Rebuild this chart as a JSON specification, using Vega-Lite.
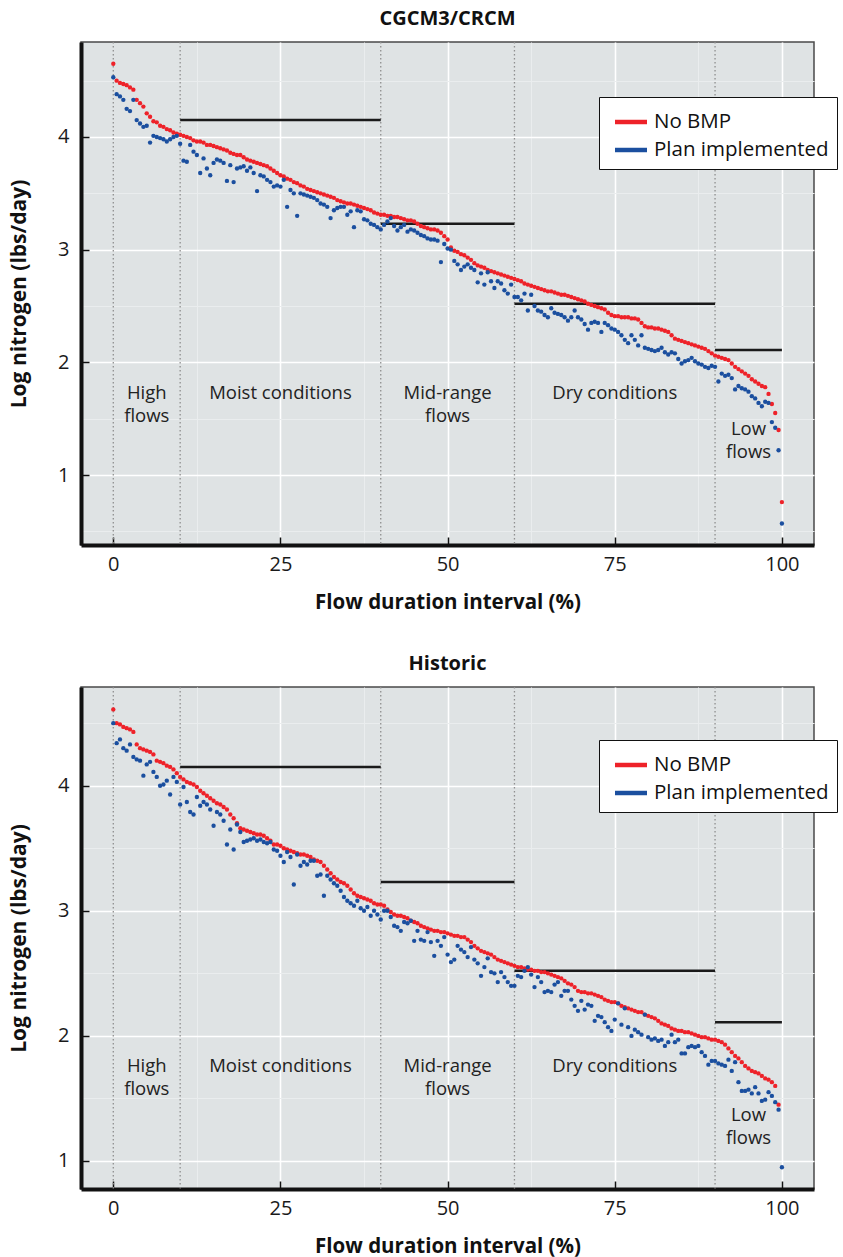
{
  "$schema": "https://vega.github.io/schema/vega-lite/v6.json",
  "padding": {"left": 7, "top": 8, "right": 0, "bottom": 0},
  "config": {
    "font": "Open Sans",
    "view": {"fill": "#dfe3e4", "stroke": "#4a4a4a", "strokeWidth": 1.5},
    "title": {"font": "Open Sans", "fontSize": 20, "fontWeight": "bold", "color": "#111111", "frame": "group", "anchor": "middle", "offset": 12},
    "axis": {"domainColor": "#111111", "domainWidth": 4, "tickColor": "#111111", "tickWidth": 1.5, "tickSize": -8, "labelFont": "Open Sans", "labelFontSize": 20, "labelColor": "#1a1a1a", "titleFont": "Open Sans", "titleFontSize": 20.5, "titleFontWeight": "bold", "titleColor": "#111111", "labelFlush": false, "labelOverlap": false, "grid": true},
    "axisX": {"labelPadding": 17, "titlePadding": 18},
    "axisY": {"labelPadding": 20, "titlePadding": 28, "titleFontSize": 21},
    "legend": {"labelFont": "Open Sans"}
  },
  "datasets": {
    "zones": [{"x": 0}, {"x": 10}, {"x": 40}, {"x": 60}, {"x": 90}],
    "targets": [{"x": 10, "x2": 40, "y": 4.15}, {"x": 40, "x2": 60, "y": 3.23}, {"x": 60, "x2": 90, "y": 2.52}, {"x": 90, "x2": 100, "y": 2.11}],
    "lab1": [{"x": 5, "y": 1.81, "t": "High\nflows"}, {"x": 25, "y": 1.81, "t": "Moist conditions"}, {"x": 50, "y": 1.81, "t": "Mid-range\nflows"}, {"x": 75, "y": 1.81, "t": "Dry conditions"}, {"x": 95, "y": 1.49, "t": "Low\nflows"}],
    "lab2": [{"x": 5, "y": 1.83, "t": "High\nflows"}, {"x": 25, "y": 1.83, "t": "Moist conditions"}, {"x": 50, "y": 1.83, "t": "Mid-range\nflows"}, {"x": 75, "y": 1.83, "t": "Dry conditions"}, {"x": 95, "y": 1.44, "t": "Low\nflows"}],
    "cg": [
      {"x":0,"n":4.65,"p":4.53},{"x":0.5,"n":4.50,"p":4.38},{"x":1,"n":4.48,"p":4.36},{"x":1.5,"n":4.47,"p":4.33},{"x":2,"n":4.46,"p":4.25},
      {"x":2.5,"n":4.44,"p":4.23},{"x":3,"n":4.42,"p":4.33},{"x":3.5,"n":4.33,"p":4.15},{"x":4,"n":4.30,"p":4.12},{"x":4.5,"n":4.27,"p":4.09},
      {"x":5,"n":4.21,"p":4.10},{"x":5.5,"n":4.18,"p":3.95},{"x":6,"n":4.14,"p":4.01},{"x":6.5,"n":4.13,"p":4.00},{"x":7,"n":4.10,"p":3.99},
      {"x":7.5,"n":4.09,"p":3.98},{"x":8,"n":4.07,"p":3.96},{"x":8.5,"n":4.06,"p":3.98},{"x":9,"n":4.04,"p":4.00},{"x":9.5,"n":4.03,"p":4.01},
      {"x":10,"n":4.02,"p":3.94},{"x":10.5,"n":4.01,"p":3.79},{"x":11,"n":4.00,"p":3.78},{"x":11.5,"n":3.99,"p":3.93},{"x":12,"n":3.97,"p":3.87},
      {"x":12.5,"n":3.96,"p":3.84},{"x":13,"n":3.96,"p":3.68},{"x":13.5,"n":3.95,"p":3.81},{"x":14,"n":3.93,"p":3.72},{"x":14.5,"n":3.93,"p":3.66},
      {"x":15,"n":3.92,"p":3.77},{"x":15.5,"n":3.91,"p":3.80},{"x":16,"n":3.90,"p":3.79},{"x":16.5,"n":3.89,"p":3.77},{"x":17,"n":3.88,"p":3.61},
      {"x":17.5,"n":3.86,"p":3.75},{"x":18,"n":3.85,"p":3.60},{"x":18.5,"n":3.84,"p":3.72},{"x":19,"n":3.84,"p":3.73},{"x":19.5,"n":3.82,"p":3.74},
      {"x":20,"n":3.80,"p":3.70},{"x":20.5,"n":3.79,"p":3.73},{"x":21,"n":3.78,"p":3.68},{"x":21.5,"n":3.77,"p":3.52},{"x":22,"n":3.76,"p":3.66},
      {"x":22.5,"n":3.75,"p":3.65},{"x":23,"n":3.74,"p":3.62},{"x":23.5,"n":3.72,"p":3.60},{"x":24,"n":3.70,"p":3.56},{"x":24.5,"n":3.68,"p":3.57},
      {"x":25,"n":3.66,"p":3.56},{"x":25.5,"n":3.65,"p":3.62},{"x":26,"n":3.63,"p":3.38},{"x":26.5,"n":3.62,"p":3.53},{"x":27,"n":3.60,"p":3.50},
      {"x":27.5,"n":3.59,"p":3.30},{"x":28,"n":3.57,"p":3.50},{"x":28.5,"n":3.56,"p":3.49},{"x":29,"n":3.54,"p":3.48},{"x":29.5,"n":3.53,"p":3.47},
      {"x":30,"n":3.52,"p":3.46},{"x":30.5,"n":3.51,"p":3.44},{"x":31,"n":3.50,"p":3.41},{"x":31.5,"n":3.49,"p":3.40},{"x":32,"n":3.48,"p":3.38},
      {"x":32.5,"n":3.47,"p":3.28},{"x":33,"n":3.46,"p":3.35},{"x":33.5,"n":3.44,"p":3.37},{"x":34,"n":3.43,"p":3.38},{"x":34.5,"n":3.42,"p":3.38},
      {"x":35,"n":3.41,"p":3.31},{"x":35.5,"n":3.41,"p":3.34},{"x":36,"n":3.40,"p":3.20},{"x":36.5,"n":3.39,"p":3.35},{"x":37,"n":3.38,"p":3.34},
      {"x":37.5,"n":3.37,"p":3.27},{"x":38,"n":3.36,"p":3.26},{"x":38.5,"n":3.35,"p":3.23},{"x":39,"n":3.33,"p":3.22},{"x":39.5,"n":3.32,"p":3.20},
      {"x":40,"n":3.31,"p":3.18},{"x":40.5,"n":3.31,"p":3.22},{"x":41,"n":3.30,"p":3.25},{"x":41.5,"n":3.30,"p":3.28},{"x":42,"n":3.29,"p":3.21},
      {"x":42.5,"n":3.29,"p":3.17},{"x":43,"n":3.28,"p":3.20},{"x":43.5,"n":3.27,"p":3.22},{"x":44,"n":3.26,"p":3.16},{"x":44.5,"n":3.26,"p":3.18},
      {"x":45,"n":3.25,"p":3.17},{"x":45.5,"n":3.23,"p":3.15},{"x":46,"n":3.21,"p":3.13},{"x":46.5,"n":3.20,"p":3.12},{"x":47,"n":3.19,"p":3.10},
      {"x":47.5,"n":3.18,"p":3.09},{"x":48,"n":3.18,"p":3.09},{"x":48.5,"n":3.17,"p":3.08},{"x":49,"n":3.15,"p":2.89},{"x":49.5,"n":3.12,"p":3.05},
      {"x":50,"n":3.09,"p":3.01},{"x":50.5,"n":3.02,"p":3.00},{"x":51,"n":2.99,"p":2.90},{"x":51.5,"n":2.98,"p":2.87},{"x":52,"n":2.96,"p":2.82},
      {"x":52.5,"n":2.95,"p":2.85},{"x":53,"n":2.93,"p":2.87},{"x":53.5,"n":2.91,"p":2.84},{"x":54,"n":2.88,"p":2.82},{"x":54.5,"n":2.86,"p":2.71},
      {"x":55,"n":2.85,"p":2.79},{"x":55.5,"n":2.84,"p":2.69},{"x":56,"n":2.82,"p":2.80},{"x":56.5,"n":2.81,"p":2.72},{"x":57,"n":2.80,"p":2.66},
      {"x":57.5,"n":2.79,"p":2.72},{"x":58,"n":2.78,"p":2.70},{"x":58.5,"n":2.77,"p":2.64},{"x":59,"n":2.76,"p":2.61},{"x":59.5,"n":2.75,"p":2.69},
      {"x":60,"n":2.74,"p":2.58},{"x":60.5,"n":2.73,"p":2.58},{"x":61,"n":2.72,"p":2.55},{"x":61.5,"n":2.70,"p":2.61},{"x":62,"n":2.69,"p":2.46},
      {"x":62.5,"n":2.68,"p":2.60},{"x":63,"n":2.67,"p":2.50},{"x":63.5,"n":2.66,"p":2.46},{"x":64,"n":2.65,"p":2.45},{"x":64.5,"n":2.64,"p":2.42},
      {"x":65,"n":2.63,"p":2.40},{"x":65.5,"n":2.63,"p":2.48},{"x":66,"n":2.62,"p":2.44},{"x":66.5,"n":2.61,"p":2.43},{"x":67,"n":2.60,"p":2.42},
      {"x":67.5,"n":2.60,"p":2.40},{"x":68,"n":2.59,"p":2.37},{"x":68.5,"n":2.58,"p":2.40},{"x":69,"n":2.57,"p":2.46},{"x":69.5,"n":2.56,"p":2.40},
      {"x":70,"n":2.55,"p":2.38},{"x":70.5,"n":2.54,"p":2.34},{"x":71,"n":2.52,"p":2.29},{"x":71.5,"n":2.51,"p":2.35},{"x":72,"n":2.50,"p":2.36},
      {"x":72.5,"n":2.49,"p":2.35},{"x":73,"n":2.48,"p":2.27},{"x":73.5,"n":2.47,"p":2.35},{"x":74,"n":2.44,"p":2.33},{"x":74.5,"n":2.42,"p":2.30},
      {"x":75,"n":2.41,"p":2.29},{"x":75.5,"n":2.41,"p":2.27},{"x":76,"n":2.40,"p":2.24},{"x":76.5,"n":2.40,"p":2.20},{"x":77,"n":2.40,"p":2.17},
      {"x":77.5,"n":2.39,"p":2.24},{"x":78,"n":2.39,"p":2.20},{"x":78.5,"n":2.38,"p":2.15},{"x":79,"n":2.35,"p":2.24},{"x":79.5,"n":2.32,"p":2.13},
      {"x":80,"n":2.31,"p":2.12},{"x":80.5,"n":2.31,"p":2.11},{"x":81,"n":2.30,"p":2.10},{"x":81.5,"n":2.30,"p":2.11},{"x":82,"n":2.29,"p":2.13},
      {"x":82.5,"n":2.28,"p":2.09},{"x":83,"n":2.27,"p":2.07},{"x":83.5,"n":2.24,"p":2.09},{"x":84,"n":2.21,"p":2.08},{"x":84.5,"n":2.20,"p":2.03},
      {"x":85,"n":2.19,"p":1.99},{"x":85.5,"n":2.18,"p":2.01},{"x":86,"n":2.17,"p":2.02},{"x":86.5,"n":2.16,"p":2.04},{"x":87,"n":2.15,"p":2.01},
      {"x":87.5,"n":2.14,"p":1.99},{"x":88,"n":2.13,"p":1.98},{"x":88.5,"n":2.12,"p":1.96},{"x":89,"n":2.10,"p":1.95},{"x":89.5,"n":2.08,"p":1.97},
      {"x":90,"n":2.06,"p":1.96},{"x":90.5,"n":2.05,"p":1.83},{"x":91,"n":2.04,"p":1.90},{"x":91.5,"n":2.03,"p":1.88},{"x":92,"n":2.02,"p":1.89},
      {"x":92.5,"n":1.99,"p":1.86},{"x":93,"n":1.96,"p":1.76},{"x":93.5,"n":1.94,"p":1.79},{"x":94,"n":1.92,"p":1.77},{"x":94.5,"n":1.90,"p":1.76},
      {"x":95,"n":1.88,"p":1.74},{"x":95.5,"n":1.85,"p":1.70},{"x":96,"n":1.83,"p":1.68},{"x":96.5,"n":1.81,"p":1.64},{"x":97,"n":1.79,"p":1.61},
      {"x":97.5,"n":1.78,"p":1.65},{"x":98,"n":1.72,"p":1.64},{"x":98.5,"n":1.63,"p":1.47},{"x":99,"n":1.55,"p":1.42},{"x":99.5,"n":1.40,"p":1.22},
      {"x":100,"n":0.76,"p":0.57}
    ],
    "hi": [
      {"x":0,"n":4.61,"p":4.50},{"x":0.5,"n":4.50,"p":4.34},{"x":1,"n":4.49,"p":4.37},{"x":1.5,"n":4.47,"p":4.30},{"x":2,"n":4.46,"p":4.28},
      {"x":2.5,"n":4.45,"p":4.33},{"x":3,"n":4.43,"p":4.23},{"x":3.5,"n":4.33,"p":4.21},{"x":4,"n":4.30,"p":4.20},{"x":4.5,"n":4.29,"p":4.08},
      {"x":5,"n":4.28,"p":4.17},{"x":5.5,"n":4.27,"p":4.19},{"x":6,"n":4.25,"p":4.11},{"x":6.5,"n":4.20,"p":4.07},{"x":7,"n":4.19,"p":4.00},
      {"x":7.5,"n":4.18,"p":4.01},{"x":8,"n":4.16,"p":4.04},{"x":8.5,"n":4.15,"p":3.93},{"x":9,"n":4.13,"p":4.07},{"x":9.5,"n":4.10,"p":4.03},
      {"x":10,"n":4.07,"p":3.85},{"x":10.5,"n":4.05,"p":3.99},{"x":11,"n":4.03,"p":3.87},{"x":11.5,"n":4.02,"p":3.79},{"x":12,"n":4.01,"p":3.77},
      {"x":12.5,"n":3.99,"p":3.91},{"x":13,"n":3.96,"p":3.84},{"x":13.5,"n":3.94,"p":3.87},{"x":14,"n":3.92,"p":3.85},{"x":14.5,"n":3.90,"p":3.81},
      {"x":15,"n":3.88,"p":3.68},{"x":15.5,"n":3.86,"p":3.79},{"x":16,"n":3.85,"p":3.77},{"x":16.5,"n":3.83,"p":3.72},{"x":17,"n":3.81,"p":3.53},
      {"x":17.5,"n":3.77,"p":3.65},{"x":18,"n":3.74,"p":3.49},{"x":18.5,"n":3.70,"p":3.69},{"x":19,"n":3.66,"p":3.63},{"x":19.5,"n":3.65,"p":3.55},
      {"x":20,"n":3.64,"p":3.56},{"x":20.5,"n":3.63,"p":3.57},{"x":21,"n":3.62,"p":3.58},{"x":21.5,"n":3.61,"p":3.56},{"x":22,"n":3.61,"p":3.57},
      {"x":22.5,"n":3.60,"p":3.55},{"x":23,"n":3.58,"p":3.54},{"x":23.5,"n":3.56,"p":3.55},{"x":24,"n":3.53,"p":3.49},{"x":24.5,"n":3.53,"p":3.48},
      {"x":25,"n":3.52,"p":3.44},{"x":25.5,"n":3.50,"p":3.39},{"x":26,"n":3.49,"p":3.47},{"x":26.5,"n":3.48,"p":3.43},{"x":27,"n":3.47,"p":3.21},
      {"x":27.5,"n":3.46,"p":3.45},{"x":28,"n":3.45,"p":3.36},{"x":28.5,"n":3.45,"p":3.39},{"x":29,"n":3.44,"p":3.37},{"x":29.5,"n":3.43,"p":3.40},
      {"x":30,"n":3.41,"p":3.40},{"x":30.5,"n":3.40,"p":3.28},{"x":31,"n":3.39,"p":3.29},{"x":31.5,"n":3.36,"p":3.12},{"x":32,"n":3.33,"p":3.28},
      {"x":32.5,"n":3.30,"p":3.25},{"x":33,"n":3.27,"p":3.22},{"x":33.5,"n":3.25,"p":3.20},{"x":34,"n":3.23,"p":3.16},{"x":34.5,"n":3.22,"p":3.11},
      {"x":35,"n":3.20,"p":3.08},{"x":35.5,"n":3.17,"p":3.06},{"x":36,"n":3.14,"p":3.04},{"x":36.5,"n":3.12,"p":3.08},{"x":37,"n":3.11,"p":3.02},
      {"x":37.5,"n":3.10,"p":3.00},{"x":38,"n":3.09,"p":3.03},{"x":38.5,"n":3.08,"p":2.96},{"x":39,"n":3.06,"p":3.00},{"x":39.5,"n":3.05,"p":2.97},
      {"x":40,"n":3.05,"p":2.93},{"x":40.5,"n":3.04,"p":3.00},{"x":41,"n":3.01,"p":3.00},{"x":41.5,"n":2.99,"p":2.95},{"x":42,"n":2.97,"p":2.88},
      {"x":42.5,"n":2.96,"p":2.87},{"x":43,"n":2.96,"p":2.84},{"x":43.5,"n":2.95,"p":2.91},{"x":44,"n":2.94,"p":2.90},{"x":44.5,"n":2.92,"p":2.92},
      {"x":45,"n":2.91,"p":2.76},{"x":45.5,"n":2.90,"p":2.84},{"x":46,"n":2.88,"p":2.77},{"x":46.5,"n":2.87,"p":2.76},{"x":47,"n":2.86,"p":2.83},
      {"x":47.5,"n":2.85,"p":2.75},{"x":48,"n":2.84,"p":2.64},{"x":48.5,"n":2.84,"p":2.76},{"x":49,"n":2.83,"p":2.72},{"x":49.5,"n":2.83,"p":2.79},
      {"x":50,"n":2.82,"p":2.65},{"x":50.5,"n":2.81,"p":2.59},{"x":51,"n":2.80,"p":2.61},{"x":51.5,"n":2.80,"p":2.72},{"x":52,"n":2.79,"p":2.69},
      {"x":52.5,"n":2.79,"p":2.67},{"x":53,"n":2.77,"p":2.63},{"x":53.5,"n":2.75,"p":2.71},{"x":54,"n":2.72,"p":2.61},{"x":54.5,"n":2.70,"p":2.58},
      {"x":55,"n":2.68,"p":2.48},{"x":55.5,"n":2.67,"p":2.55},{"x":56,"n":2.66,"p":2.62},{"x":56.5,"n":2.65,"p":2.51},{"x":57,"n":2.63,"p":2.50},
      {"x":57.5,"n":2.61,"p":2.43},{"x":58,"n":2.60,"p":2.51},{"x":58.5,"n":2.59,"p":2.47},{"x":59,"n":2.58,"p":2.43},{"x":59.5,"n":2.57,"p":2.40},
      {"x":60,"n":2.56,"p":2.40},{"x":60.5,"n":2.55,"p":2.48},{"x":61,"n":2.55,"p":2.47},{"x":61.5,"n":2.54,"p":2.52},{"x":62,"n":2.53,"p":2.55},
      {"x":62.5,"n":2.53,"p":2.49},{"x":63,"n":2.52,"p":2.39},{"x":63.5,"n":2.52,"p":2.47},{"x":64,"n":2.51,"p":2.43},{"x":64.5,"n":2.51,"p":2.35},
      {"x":65,"n":2.50,"p":2.36},{"x":65.5,"n":2.49,"p":2.35},{"x":66,"n":2.48,"p":2.41},{"x":66.5,"n":2.47,"p":2.43},{"x":67,"n":2.46,"p":2.32},
      {"x":67.5,"n":2.44,"p":2.36},{"x":68,"n":2.42,"p":2.36},{"x":68.5,"n":2.41,"p":2.29},{"x":69,"n":2.39,"p":2.24},{"x":69.5,"n":2.36,"p":2.20},
      {"x":70,"n":2.35,"p":2.28},{"x":70.5,"n":2.35,"p":2.21},{"x":71,"n":2.34,"p":2.25},{"x":71.5,"n":2.34,"p":2.24},{"x":72,"n":2.33,"p":2.12},
      {"x":72.5,"n":2.32,"p":2.16},{"x":73,"n":2.31,"p":2.15},{"x":73.5,"n":2.29,"p":2.11},{"x":74,"n":2.28,"p":2.07},{"x":74.5,"n":2.27,"p":2.04},
      {"x":75,"n":2.27,"p":2.13},{"x":75.5,"n":2.26,"p":2.26},{"x":76,"n":2.24,"p":2.09},{"x":76.5,"n":2.23,"p":2.22},{"x":77,"n":2.22,"p":2.07},
      {"x":77.5,"n":2.21,"p":2.00},{"x":78,"n":2.20,"p":2.05},{"x":78.5,"n":2.19,"p":2.03},{"x":79,"n":2.19,"p":2.01},{"x":79.5,"n":2.17,"p":2.17},
      {"x":80,"n":2.16,"p":1.99},{"x":80.5,"n":2.15,"p":1.97},{"x":81,"n":2.14,"p":1.98},{"x":81.5,"n":2.12,"p":1.96},{"x":82,"n":2.10,"p":1.97},
      {"x":82.5,"n":2.09,"p":1.92},{"x":83,"n":2.08,"p":1.95},{"x":83.5,"n":2.06,"p":2.01},{"x":84,"n":2.05,"p":1.95},{"x":84.5,"n":2.04,"p":1.97},
      {"x":85,"n":2.04,"p":1.86},{"x":85.5,"n":2.03,"p":1.86},{"x":86,"n":2.03,"p":1.91},{"x":86.5,"n":2.02,"p":1.92},{"x":87,"n":2.01,"p":1.91},
      {"x":87.5,"n":2.00,"p":1.92},{"x":88,"n":1.99,"p":1.87},{"x":88.5,"n":1.99,"p":1.84},{"x":89,"n":1.98,"p":1.77},{"x":89.5,"n":1.97,"p":1.80},
      {"x":90,"n":1.97,"p":1.80},{"x":90.5,"n":1.96,"p":1.78},{"x":91,"n":1.95,"p":1.77},{"x":91.5,"n":1.93,"p":1.76},{"x":92,"n":1.90,"p":1.81},
      {"x":92.5,"n":1.87,"p":1.72},{"x":93,"n":1.84,"p":1.79},{"x":93.5,"n":1.82,"p":1.63},{"x":94,"n":1.79,"p":1.56},{"x":94.5,"n":1.76,"p":1.56},
      {"x":95,"n":1.74,"p":1.57},{"x":95.5,"n":1.72,"p":1.54},{"x":96,"n":1.71,"p":1.59},{"x":96.5,"n":1.70,"p":1.54},{"x":97,"n":1.68,"p":1.48},
      {"x":97.5,"n":1.66,"p":1.49},{"x":98,"n":1.65,"p":1.55},{"x":98.5,"n":1.63,"p":1.52},{"x":99,"n":1.60,"p":1.47},{"x":99.5,"n":1.45,"p":1.41},
      {"x":100,"n":null,"p":0.95}
    ]
  },
  "spacing": 39,
  "resolve": {"scale": {"x": "independent", "y": "independent", "color": "independent"}, "legend": {"color": "independent"}},
  "vconcat": [
    {
      "title": {"text": "CGCM3/CRCM"},
      "width": 733,
      "height": 503,
      "layer": [
        {"data": {"name": "zones"}, "mark": {"type": "rule", "color": "#8f8f8f", "strokeDash": [1.5, 2.5], "strokeWidth": 1.3},
         "encoding": {"x": {"field": "x", "type": "quantitative"}}},
        {"data": {"name": "targets"}, "mark": {"type": "rule", "color": "#1a1a1a", "strokeWidth": 2.5},
         "encoding": {"x": {"field": "x", "type": "quantitative"}, "x2": {"field": "x2"}, "y": {"field": "y", "type": "quantitative"}}},
        {"data": {"name": "lab1"}, "mark": {"type": "text", "align": "center", "baseline": "top", "fontSize": 18.5, "font": "Open Sans", "color": "#222222", "lineBreak": "\n", "lineHeight": 23},
         "encoding": {"x": {"field": "x", "type": "quantitative"}, "y": {"field": "y", "type": "quantitative"}, "text": {"field": "t"}}},
        {"data": {"name": "cg"}, "transform": [{"fold": ["n", "p"], "as": ["key", "y"]}],
         "mark": {"type": "point", "filled": true, "size": 19, "opacity": 1},
         "encoding": {
           "x": {"field": "x", "type": "quantitative", "scale": {"domain": [-4.83, 104.8], "nice": false, "zero": false},
                 "axis": {"title": "Flow duration interval (%)", "values": [0, 12.5, 25, 37.5, 50, 62.5, 75, 87.5, 100],
                          "labelExpr": "datum.value % 25 === 0 ? datum.label : ''",
                          "tickOpacity": {"condition": {"test": "datum.value % 25 === 0", "value": 1}, "value": 0},
                          "gridColor": {"condition": {"test": "datum.value % 25 === 0", "value": "#ffffff"}, "value": "#eaedee"},
                          "gridWidth": {"condition": {"test": "datum.value % 25 === 0", "value": 1.6}, "value": 1},
                          "gridOpacity": {"condition": {"test": "datum.value === 0", "value": 0}, "value": 1}}},
           "y": {"field": "y", "type": "quantitative", "scale": {"domain": [0.379, 4.843], "nice": false, "zero": false},
                 "axis": {"title": "Log nitrogen (lbs/day)", "values": [0.5, 1, 1.5, 2, 2.5, 3, 3.5, 4, 4.5],
                          "labelExpr": "datum.value % 1 === 0 ? format(datum.value, 'd') : ''",
                          "tickOpacity": {"condition": {"test": "datum.value % 1 === 0", "value": 1}, "value": 0},
                          "gridColor": {"condition": {"test": "datum.value % 1 === 0", "value": "#ffffff"}, "value": "#eaedee"},
                          "gridWidth": {"condition": {"test": "datum.value % 1 === 0", "value": 1.6}, "value": 1}}},
           "color": {"field": "key", "type": "nominal", "scale": {"domain": ["n", "p"], "range": ["#ee2229", "#1b4f9f"]},
                     "legend": {"title": null, "orient": "none", "legendX": 518, "legendY": 55, "fillColor": "#ffffff", "strokeColor": "#111111",
                                "padding": 8, "symbolOffset": 7, "symbolType": "M-1,-0.14H1V0.14H-1Z", "symbolSize": 1024,
                                "labelFontSize": 20.5, "labelColor": "#111111", "labelOffset": 6, "rowPadding": 0, "labelLimit": 300,
                                "labelExpr": "datum.value == 'n' ? 'No BMP' : 'Plan implemented'"}},
           "order": {"field": "key", "sort": "ascending"}
         }}
      ]
    },
    {
      "title": {"text": "Historic"},
      "width": 733,
      "height": 502,
      "layer": [
        {"data": {"name": "zones"}, "mark": {"type": "rule", "color": "#8f8f8f", "strokeDash": [1.5, 2.5], "strokeWidth": 1.3},
         "encoding": {"x": {"field": "x", "type": "quantitative"}}},
        {"data": {"name": "targets"}, "mark": {"type": "rule", "color": "#1a1a1a", "strokeWidth": 2.5},
         "encoding": {"x": {"field": "x", "type": "quantitative"}, "x2": {"field": "x2"}, "y": {"field": "y", "type": "quantitative"}}},
        {"data": {"name": "lab2"}, "mark": {"type": "text", "align": "center", "baseline": "top", "fontSize": 18.5, "font": "Open Sans", "color": "#222222", "lineBreak": "\n", "lineHeight": 23},
         "encoding": {"x": {"field": "x", "type": "quantitative"}, "y": {"field": "y", "type": "quantitative"}, "text": {"field": "t"}}},
        {"data": {"name": "hi"}, "transform": [{"fold": ["n", "p"], "as": ["key", "y"]}],
         "mark": {"type": "point", "filled": true, "size": 19, "opacity": 1},
         "encoding": {
           "x": {"field": "x", "type": "quantitative", "scale": {"domain": [-4.83, 104.8], "nice": false, "zero": false},
                 "axis": {"title": "Flow duration interval (%)", "values": [0, 12.5, 25, 37.5, 50, 62.5, 75, 87.5, 100],
                          "labelExpr": "datum.value % 25 === 0 ? datum.label : ''",
                          "tickOpacity": {"condition": {"test": "datum.value % 25 === 0", "value": 1}, "value": 0},
                          "gridColor": {"condition": {"test": "datum.value % 25 === 0", "value": "#ffffff"}, "value": "#eaedee"},
                          "gridWidth": {"condition": {"test": "datum.value % 25 === 0", "value": 1.6}, "value": 1},
                          "gridOpacity": {"condition": {"test": "datum.value === 0", "value": 0}, "value": 1}}},
           "y": {"field": "y", "type": "quantitative", "scale": {"domain": [0.776, 4.789], "nice": false, "zero": false},
                 "axis": {"title": "Log nitrogen (lbs/day)", "values": [1, 1.5, 2, 2.5, 3, 3.5, 4, 4.5],
                          "labelExpr": "datum.value % 1 === 0 ? format(datum.value, 'd') : ''",
                          "tickOpacity": {"condition": {"test": "datum.value % 1 === 0", "value": 1}, "value": 0},
                          "gridColor": {"condition": {"test": "datum.value % 1 === 0", "value": "#ffffff"}, "value": "#eaedee"},
                          "gridWidth": {"condition": {"test": "datum.value % 1 === 0", "value": 1.6}, "value": 1}}},
           "color": {"field": "key", "type": "nominal", "scale": {"domain": ["n", "p"], "range": ["#ee2229", "#1b4f9f"]},
                     "legend": {"title": null, "orient": "none", "legendX": 518, "legendY": 53, "fillColor": "#ffffff", "strokeColor": "#111111",
                                "padding": 8, "symbolOffset": 7, "symbolType": "M-1,-0.14H1V0.14H-1Z", "symbolSize": 1024,
                                "labelFontSize": 20.5, "labelColor": "#111111", "labelOffset": 6, "rowPadding": 0, "labelLimit": 300,
                                "labelExpr": "datum.value == 'n' ? 'No BMP' : 'Plan implemented'"}},
           "order": {"field": "key", "sort": "ascending"}
         }}
      ]
    }
  ]
}
